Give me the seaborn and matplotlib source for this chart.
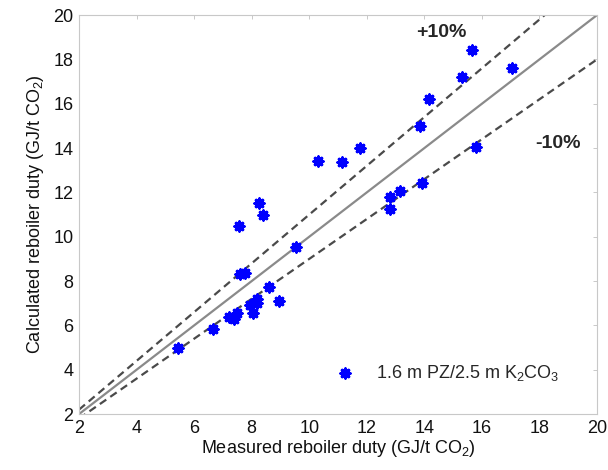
import numpy as np
import pandas as pd
import matplotlib
matplotlib.use("Agg")
import matplotlib.pyplot as plt
import seaborn as sns

# Data
measured = [5.45, 6.65, 7.2, 7.4, 7.5, 7.95, 8.05, 8.2, 8.2, 8.95, 8.6, 7.6, 7.75,
            9.55, 7.55, 8.25, 8.4, 10.3, 11.15, 11.75, 12.8, 12.8, 13.15, 13.9,
            13.85, 14.15, 15.3, 15.65, 15.8, 17.05]
calculated = [5.0, 5.83, 6.4, 6.3, 6.55, 6.92, 6.55, 7.0, 7.17, 7.08, 7.75, 8.3, 8.35,
              9.53, 10.5, 11.52, 11.0, 13.43, 13.35, 14.0, 11.77, 11.23, 12.05, 12.43,
              15.0, 16.22, 17.21, 18.42, 14.03, 17.62]
parity_x = [2, 20]
factors = [1.0, 1.1, 0.9]
ticks = [2, 4, 6, 8, 10, 12, 14, 16, 18, 20]
series_label = "1.6 m PZ/2.5 m K$_2$CO$_3$"

sns.set_style("white")
plt.rcParams['font.family'] = ['Liberation Sans', 'DejaVu Sans']
plt.rcParams['mathtext.fontset'] = 'custom'
plt.rcParams['mathtext.rm'] = 'Liberation Sans'
plt.rcParams['mathtext.it'] = 'Liberation Sans'

fig = plt.figure(figsize=(6.08, 4.70), dpi=100)
ax = fig.add_axes([0.130, 0.119, 0.852, 0.849])

# reference lines
line_df = pd.DataFrame({"x": parity_x, "y": [v * factors[0] for v in parity_x]})
sns.lineplot(data=line_df, x="x", y="y", ax=ax, color="#8a8a8a", linewidth=1.6)
for f in factors[1:]:
    d = pd.DataFrame({"x": parity_x, "y": [v * f for v in parity_x]})
    sns.lineplot(data=d, x="x", y="y", ax=ax, color="#4a4a4a", linewidth=1.6,
                 linestyle=(0, (3.5, 2.2)))

df = pd.DataFrame({"Measured": measured, "Calculated": calculated})
sns.scatterplot(data=df, x="Measured", y="Calculated", ax=ax, marker=(8, 2, 0),
                s=42, color="#0000ff", edgecolor="#0000ff", linewidth=2.3,
                label=series_label, zorder=5)

ax.set_xlim(2, 20)
ax.set_ylim(2, 20)
ax.set_xticks(ticks)
ax.set_yticks(ticks)
ax.tick_params(axis='both', which='both', direction='in', length=3, width=0.6,
               colors='#c0c0c0', labelcolor='#111111', labelsize=13,
               top=True, right=True, pad=4)
for sp in ax.spines.values():
    sp.set_color('#c8c8c8')
    sp.set_linewidth(0.8)
    sp.set_visible(True)

ax.set_xlabel("Measured reboiler duty (GJ/t CO$_2$)", fontsize=13, color='#111111', labelpad=1)
ax.set_ylabel("Calculated reboiler duty (GJ/t CO$_2$)", fontsize=13, color='#111111', labelpad=5)

ax.text(14.6, 19.2, "+10%", fontsize=14, fontweight='bold', ha='center', va='center')
ax.text(18.65, 14.2, "-10%", fontsize=14, fontweight='bold', ha='center', va='center')

leg = ax.legend(loc='center left', bbox_to_anchor=(0.448, 0.103), frameon=False,
                fontsize=13, handletextpad=0.7, markerscale=1.0)

fig.savefig("out.png", dpi=100)
